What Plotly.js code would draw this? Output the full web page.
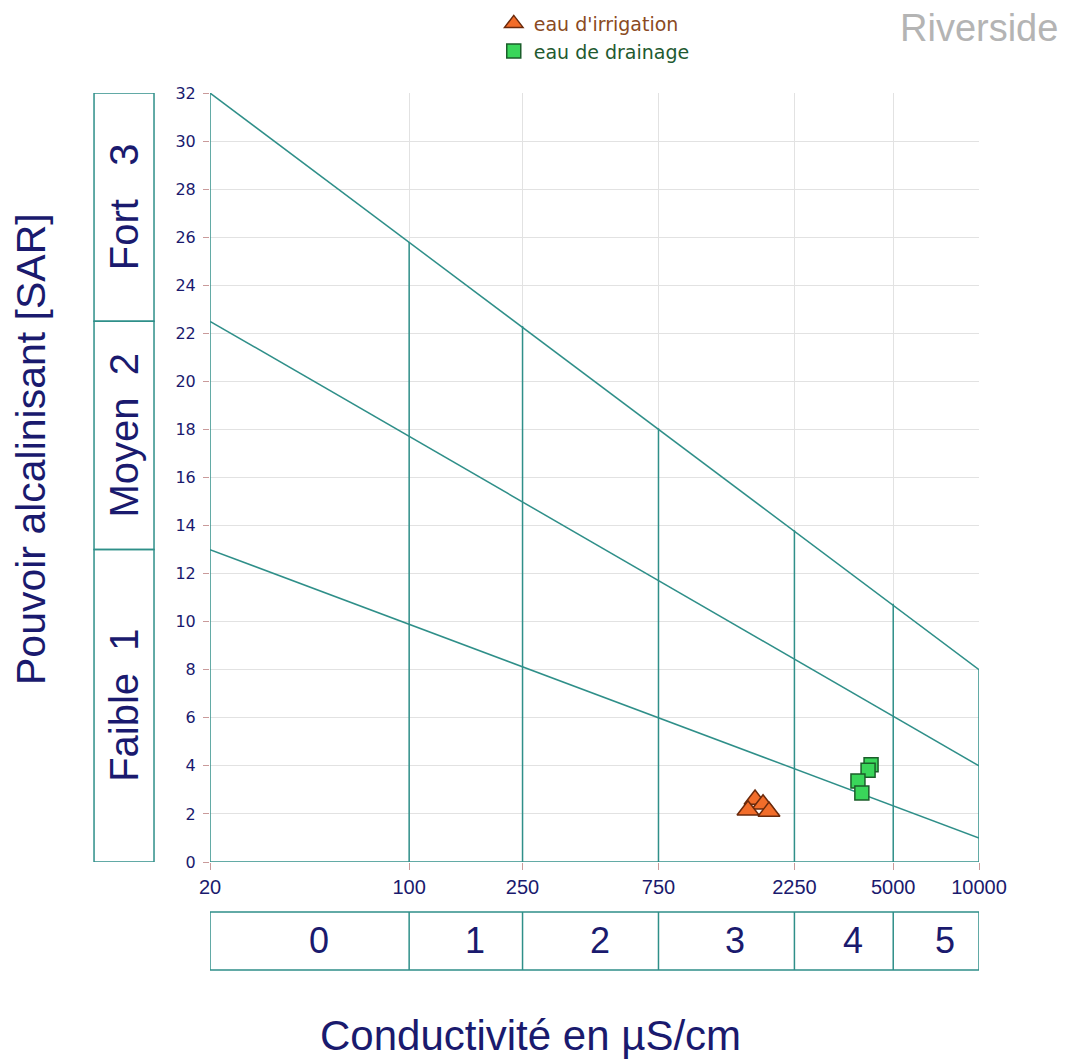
<!DOCTYPE html>
<html>
<head>
<meta charset="utf-8">
<script src="https://cdn.plot.ly/plotly-3.0.1.min.js"></script>
<style>html,body{margin:0;padding:0;background:#fff;}#chart{width:1068px;height:1059px;}</style>
</head>
<body>
<div id="chart"></div>
<script>
// ---- data ----
const ecBreaks = [20, 100, 250, 750, 2250, 5000, 10000];          // conductivity class limits (µS/cm)
const ecTickText = ['20', '100', '250', '750', '2250', '5000', '10000'];
const ecClassLabels = ['0', '1', '2', '3', '4', '5'];
const sarLineStart = [13, 22.5, 32];   // SAR at 20 µS/cm
const sarLineEnd = [1, 4, 8];          // SAR at 10000 µS/cm
const verticalTops = [32, 25.8, 22.3, 18.05, 13.8, 10.75, 8];   // top of each class divider
const sarClassLimits = [0, 13, 22.5, 32];
const sarClassLabels = ['Faible&nbsp;&nbsp;1', 'Moyen&nbsp;&nbsp;2', 'Fort&nbsp;&nbsp;&nbsp;3'];
const yTicks = [0, 2, 4, 6, 8, 10, 12, 14, 16, 18, 20, 22, 24, 26, 28, 30, 32];

const irrigEC = [1637, 1746, 1546, 1832];
const irrigSAR = [2.6, 2.4, 2.15, 2.1];
const drainEC = [4180, 4080, 3760, 3880];
const drainSAR = [4.05, 3.82, 3.37, 2.87];

// ---- styles ----
const teal = '#2f8f89';
const navy = '#1a1a6e';

const traces = [];
for (let i = 0; i < sarLineStart.length; i++) {
  traces.push({x: [ecBreaks[0], ecBreaks[ecBreaks.length - 1]], y: [sarLineStart[i], sarLineEnd[i]],
    mode: 'lines', line: {color: teal, width: 1.5}, showlegend: false, hoverinfo: 'skip'});
}
const vx = [], vy = [];
ecBreaks.forEach((b, i) => { vx.push(b, b, null); vy.push(0, verticalTops[i], null); });
traces.push({x: vx, y: vy, mode: 'lines', line: {color: teal, width: 1.5}, showlegend: false, hoverinfo: 'skip'});
traces.push({x: [ecBreaks[0], ecBreaks[ecBreaks.length - 1]], y: [0, 0], mode: 'lines',
  line: {color: teal, width: 1.5}, showlegend: false, hoverinfo: 'skip'});

traces.push({x: irrigEC, y: irrigSAR, mode: 'markers', type: 'scatter',
  name: '<span style="color:#8a4a22">eau d\'irrigation</span>',
  marker: {symbol: 'triangle-up', size: 19, color: '#f26d2a', line: {color: '#6b2a0c', width: 1.5}}});
traces.push({x: drainEC, y: drainSAR, mode: 'markers', type: 'scatter',
  name: '<span style="color:#1f5a30">eau de drainage</span>',
  marker: {symbol: 'square', size: 14, color: '#3ad65a', line: {color: '#1b5e2a', width: 1.5}}});

const shapes = [];
shapes.push({type: 'rect', xref: 'x', yref: 'paper', x0: ecBreaks[0], x1: ecBreaks[ecBreaks.length - 1],
  y0: -0.1404, y1: -0.065, line: {color: teal, width: 1.5}});
for (let i = 1; i < ecBreaks.length - 1; i++) {
  shapes.push({type: 'line', xref: 'x', yref: 'paper', x0: ecBreaks[i], x1: ecBreaks[i],
    y0: -0.1404, y1: -0.065, line: {color: teal, width: 1.5}});
}
for (let i = 0; i < sarClassLabels.length; i++) {
  shapes.push({type: 'rect', xref: 'paper', yref: 'y', x0: -0.1508, x1: -0.0728,
    y0: sarClassLimits[i], y1: sarClassLimits[i + 1], line: {color: teal, width: 1.5}});
}

const annotations = [];
for (let i = 0; i < ecClassLabels.length; i++) {
  annotations.push({xref: 'x', yref: 'paper', x: (Math.log10(ecBreaks[i]) + Math.log10(ecBreaks[i + 1])) / 2,
    y: -0.1027, xanchor: 'center', yanchor: 'middle', xshift: 9, text: ecClassLabels[i], showarrow: false,
    font: {family: 'Liberation Sans', size: 36, color: navy}});
}
for (let i = 0; i < sarClassLabels.length; i++) {
  annotations.push({xref: 'paper', yref: 'y', x: -0.1118, y: (sarClassLimits[i] + sarClassLimits[i + 1]) / 2,
    xanchor: 'center', yanchor: 'middle', text: sarClassLabels[i], textangle: -90, showarrow: false,
    font: {family: 'Liberation Sans', size: 40, color: navy}});
}
annotations.push({xref: 'paper', yref: 'paper', x: -0.2328, y: 0.537, xanchor: 'center', yanchor: 'middle',
  text: 'Pouvoir alcalinisant [SAR]', textangle: -90, showarrow: false,
  font: {family: 'Liberation Sans', size: 41, color: navy}});
annotations.push({xref: 'paper', yref: 'paper', x: 0.417, y: -0.225, xanchor: 'center', yanchor: 'middle',
  text: 'Conductivité en µS/cm', showarrow: false, font: {family: 'Liberation Sans', size: 42, color: navy}});
annotations.push({xref: 'paper', yref: 'paper', x: 1.105, y: 1.0845, xanchor: 'right', yanchor: 'middle',
  text: 'Riverside', showarrow: false, font: {family: 'Liberation Sans', size: 38, color: '#b4b4b4'}});

const layout = {
  width: 1068, height: 1059,
  margin: {l: 210, r: 89, t: 93, b: 197, autoexpand: false},
  paper_bgcolor: '#fff', plot_bgcolor: '#fff',
  showlegend: true,
  legend: {x: 0.369, y: 1.115, xanchor: 'left', yanchor: 'top', bgcolor: 'rgba(0,0,0,0)',
    font: {family: 'DejaVu Sans', size: 19}, itemwidth: 30, tracegroupgap: 0},
  xaxis: {type: 'log', range: [Math.log10(20), 4], tickvals: ecBreaks, ticktext: ecTickText,
    showgrid: true, gridcolor: '#e2e2e2', gridwidth: 1, zeroline: false, showline: false,
    ticks: 'outside', ticklen: 7, tickcolor: '#c99a9a', tickwidth: 1,
    tickfont: {family: 'Liberation Sans', size: 20, color: navy}},
  yaxis: {range: [0, 32], tickvals: yTicks, showgrid: true, gridcolor: '#e2e2e2', gridwidth: 1,
    zeroline: false, showline: false, ticks: 'outside', ticklen: 6, tickcolor: '#c99a9a', tickwidth: 1,
    ticklabelstandoff: 4,
    tickfont: {family: 'DejaVu Sans', size: 16, color: navy}},
  shapes: shapes,
  annotations: annotations
};

Plotly.newPlot('chart', traces, layout, {displayModeBar: false, staticPlot: true});
</script>
</body>
</html>
